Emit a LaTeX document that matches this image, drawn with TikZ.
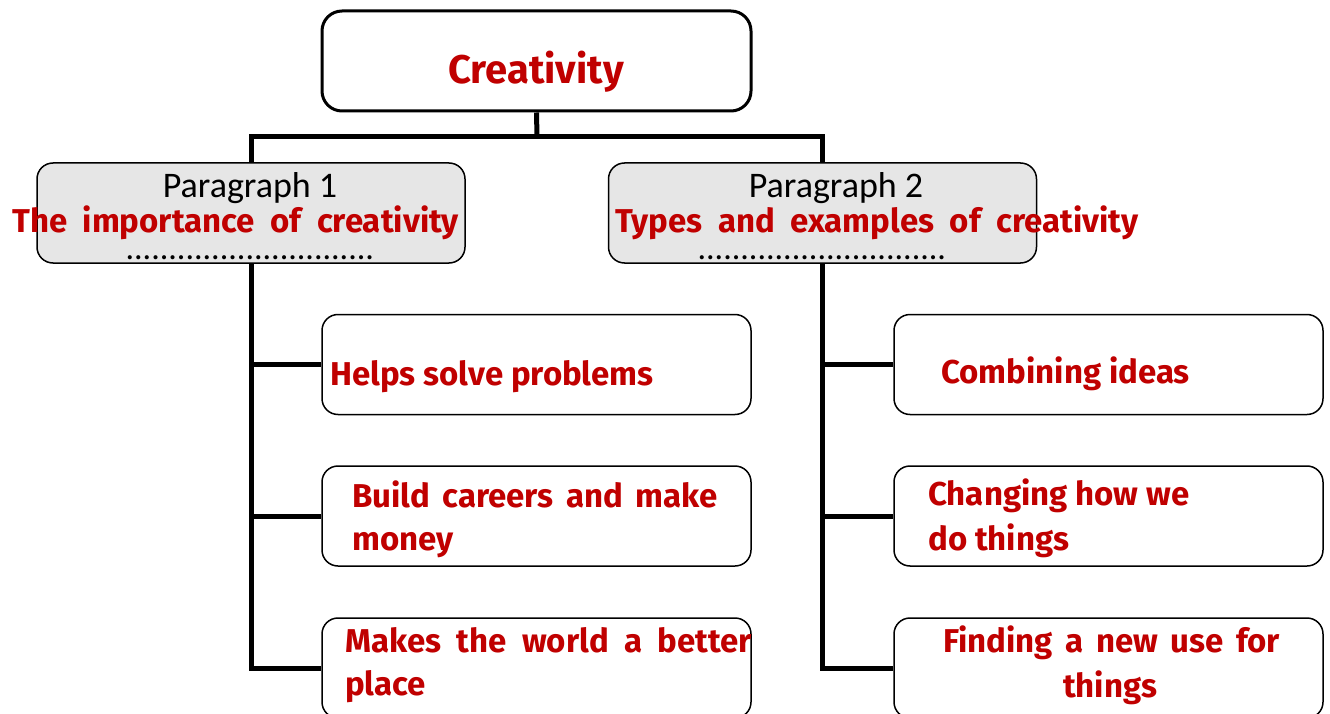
\documentclass[tikz,border=0pt]{standalone}
\usepackage{fontspec}
\setmainfont{Carlito}
\newfontfamily\comic{Fira Sans}
\newcommand\widesp{\spaceskip=15.5pt plus 2pt minus 2pt\relax}
\newcommand\midsp{\spaceskip=12.5pt plus 2pt minus 2pt\relax}
\definecolor{myred}{HTML}{C00000}
\definecolor{boxgray}{HTML}{E6E6E6}
\tikzset{
  topbox/.style={draw=black, line width=3pt, rounded corners=20pt, fill=white,
    minimum width=429pt, minimum height=100pt, inner sep=0pt},
  parabox/.style={draw=black, line width=1.5pt, rounded corners=16pt, fill=boxgray,
    minimum width=428pt, minimum height=100pt, inner sep=0pt},
  childbox/.style={draw=black, line width=1.5pt, rounded corners=16pt, fill=white,
    minimum width=429pt, minimum height=100pt, inner sep=0pt},
  trunk/.style={draw=black, line width=5pt},
  redtxt/.style={text=myred, font=\comic\bfseries\fontsize{33}{43}\selectfont, inner sep=0pt, anchor=base west},
  redpara/.style={text=myred, font=\comic\bfseries\fontsize{33}{38}\selectfont, inner sep=0pt, anchor=base west},
  titletxt/.style={text=myred, font=\comic\bfseries\fontsize{40}{44}\selectfont, inner sep=0pt, anchor=base},
  ptxt/.style={text=black, font=\fontsize{36}{40}\selectfont, inner sep=0pt, anchor=base},
  dottxt/.style={text=black, font=\fontsize{34}{40}\selectfont, inner sep=0pt, anchor=base,
    text height=4pt, text depth=0pt},
}
\begin{document}
\begin{tikzpicture}[x=1pt,y=-1pt]
\useasboundingbox[fill=white] (0,0) rectangle (1330,714);
% boxes
\node[topbox] (top) at (536.5,61) {};
\node[parabox] (p1) at (251,213) {};
\node[parabox] (p2) at (822.5,213) {};
\node[childbox] (c1) at (536.5,364.5) {};
\node[childbox] (c2) at (536.5,516) {};
\node[childbox] (c3) at (536.5,668) {};
\node[childbox] (d1) at (1108.5,364.5) {};
\node[childbox] (d2) at (1108.5,516) {};
\node[childbox] (d3) at (1108.5,668) {};
% connectors
\coordinate (hbar) at (537,137);
\draw[trunk] (top.south) -- (hbar);
\draw[trunk] (p1.north) |- (hbar) -| (p2.north);
\draw[trunk] (p1.south) |- (c3.west);
\draw[trunk] (p1.south |- c1.west) -- (c1.west);
\draw[trunk] (p1.south |- c2.west) -- (c2.west);
\draw[trunk] (p2.south) |- (d3.west);
\draw[trunk] (p2.south |- d1.west) -- (d1.west);
\draw[trunk] (p2.south |- d2.west) -- (d2.west);
% texts
\node[titletxt] (toptxt) at (536,84) {Creativity};
\node[ptxt] (p1a) at (250,198) {Paragraph 1};
\node[redpara] (p1b) at (12,233) {\widesp The importance of creativity};
\node[dottxt] (p1c) at (250,259) {.............................};
\node[ptxt] (p2a) at (836,198) {Paragraph 2};
\node[redpara] (p2b) at (615,233) {\widesp Types and examples of creativity};
\node[dottxt] (p2c) at (822,259) {.............................};
\node[redtxt] (c1t) at (330,385) {Helps solve problems};
\node[redtxt] (c2t) at (352,507) {\midsp Build careers and make};
\node[redtxt] (c2u) at (352,550) {money};
\node[redtxt] (c3t) at (345,652) {\widesp Makes the world a better};
\node[redtxt] (c3u) at (345,695) {place};
\node[redtxt] (d1t) at (941,383) {Combining ideas};
\node[redtxt] (d2t) at (928,505) {Changing how we};
\node[redtxt] (d2u) at (928,550) {do things};
\node[redtxt] (d3t) at (943,652) {\midsp Finding a new use for};
\node[redtxt, anchor=base] (d3u) at (1110,697) {things};
\end{tikzpicture}
\end{document}
